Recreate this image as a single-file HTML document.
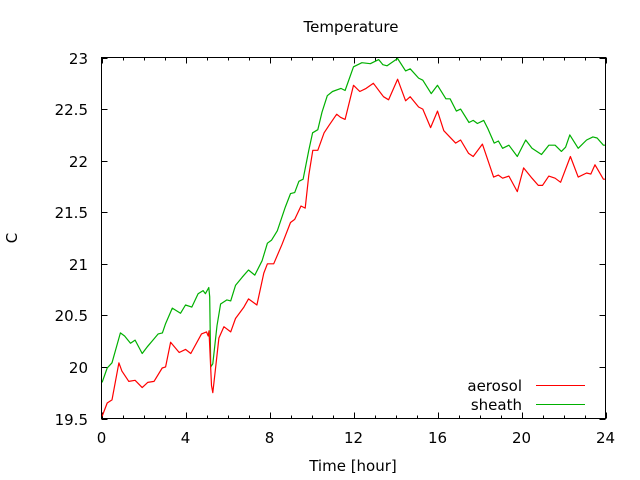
<!DOCTYPE html>
<html><head><meta charset="utf-8">
<style>
html,body{margin:0;padding:0;background:#fff;}
svg{display:block;font-family:"DejaVu Sans","Liberation Sans",sans-serif;font-size:15px;fill:#000;}
</style></head>
<body>
<svg id="chart" width="640" height="480" viewBox="0 0 640 480" xmlns="http://www.w3.org/2000/svg">
<rect x="0" y="0" width="640" height="480" fill="#fff"/>
<text x="351" y="32" text-anchor="middle">Temperature</text>
<text x="353" y="471" text-anchor="middle">Time [hour]</text>
<text x="0" y="0" text-anchor="middle" transform="translate(17,238) rotate(-90)">C</text>
<g id="ticks"></g>
<g id="series"></g>
<rect x="101.5" y="57.5" width="504" height="361" fill="none" stroke="#000" stroke-width="1"/>
<g>
<text x="522" y="391" text-anchor="end">aerosol</text>
<line x1="536" y1="385.5" x2="585" y2="385.5" stroke="#ff0000"/>
<text x="522" y="410" text-anchor="end">sheath</text>
<line x1="536" y1="404.5" x2="585" y2="404.5" stroke="#00b000"/>
</g>
</svg>
<script>
const xTickLabels = [0, 4, 8, 12, 16, 20, 24];
const yTickLabels = [19.5, 20, 20.5, 21, 21.5, 22, 22.5, 23];
const aerosolHours = [0.03,0.27,0.5,0.83,0.97,1.3,1.6,1.94,2.2,2.5,2.89,3.05,3.29,3.7,4.0,4.25,4.76,5.0,5.08,5.12,5.24,5.3,5.4,5.59,5.83,6.15,6.38,6.78,7.0,7.4,7.73,7.9,8.2,8.6,9.0,9.2,9.5,9.7,9.87,10.06,10.3,10.6,10.83,11.2,11.38,11.6,12.0,12.3,12.6,12.95,13.43,13.67,14.1,14.48,14.7,15.1,15.3,15.67,16.0,16.3,16.86,17.1,17.48,17.7,18.14,18.67,18.9,19.1,19.4,19.8,20.1,20.5,20.8,21.0,21.3,21.6,21.86,22.33,22.7,23.1,23.3,23.5,23.9,24.0];
const aerosolValues = [19.52,19.65,19.68,20.04,19.96,19.86,19.87,19.8,19.85,19.86,19.99,20.0,20.24,20.14,20.17,20.13,20.32,20.34,20.3,20.35,19.82,19.75,19.93,20.28,20.39,20.34,20.47,20.58,20.66,20.6,20.91,21.0,21.0,21.19,21.4,21.43,21.56,21.54,21.86,22.1,22.1,22.27,22.34,22.45,22.42,22.4,22.73,22.67,22.7,22.75,22.62,22.59,22.79,22.58,22.62,22.52,22.5,22.32,22.48,22.29,22.17,22.2,22.07,22.04,22.16,21.84,21.86,21.83,21.85,21.7,21.93,21.83,21.76,21.76,21.85,21.83,21.79,22.04,21.84,21.88,21.87,21.96,21.82,21.82];
const sheathHours = [0.03,0.27,0.5,0.9,1.1,1.38,1.6,1.94,2.2,2.41,2.7,2.9,3.05,3.37,3.76,4.0,4.3,4.6,4.84,4.95,5.11,5.15,5.2,5.3,5.5,5.67,5.97,6.15,6.38,6.7,7.0,7.3,7.65,7.9,8.1,8.37,8.75,9.0,9.2,9.4,9.6,9.87,10.05,10.3,10.5,10.75,11.0,11.4,11.6,12.0,12.4,12.8,13.2,13.4,13.6,14.1,14.48,14.7,15.1,15.3,15.7,16.0,16.4,16.6,16.9,17.1,17.5,17.7,17.9,18.2,18.4,18.7,18.9,19.1,19.4,19.8,20.2,20.5,20.95,21.3,21.6,21.9,22.1,22.3,22.7,23.1,23.4,23.6,23.9,24.0];
const sheathValues = [19.85,19.99,20.04,20.33,20.3,20.23,20.26,20.13,20.2,20.25,20.32,20.33,20.42,20.57,20.52,20.6,20.58,20.71,20.74,20.71,20.77,20.68,20.0,20.03,20.4,20.61,20.65,20.64,20.79,20.87,20.94,20.89,21.03,21.2,21.23,21.32,21.55,21.68,21.69,21.8,21.82,22.1,22.27,22.3,22.47,22.63,22.67,22.7,22.68,22.91,22.95,22.94,22.98,22.93,22.92,22.99,22.87,22.89,22.8,22.78,22.65,22.73,22.6,22.6,22.48,22.5,22.37,22.39,22.36,22.39,22.31,22.17,22.19,22.12,22.15,22.04,22.2,22.12,22.06,22.15,22.15,22.09,22.13,22.25,22.12,22.2,22.23,22.22,22.15,22.15];

const X0 = 101.5, X1 = 605.5, Y0 = 418.5, Y1 = 57.5;
const xMin = 0, xMax = 24, yMin = 19.5, yMax = 23;
function sx(v){ return X0 + (v - xMin) / (xMax - xMin) * (X1 - X0); }
function sy(v){ return Y0 - (v - yMin) / (yMax - yMin) * (Y0 - Y1); }
const NS = "http://www.w3.org/2000/svg";
const ticks = document.getElementById('ticks');
const series = document.getElementById('series');
function mk(tag, attrs, parent){
  const e = document.createElementNS(NS, tag);
  for (const k in attrs) e.setAttribute(k, attrs[k]);
  parent.appendChild(e);
  return e;
}
// minor x ticks every hour
for (let h = xMin; h <= xMax; h++) {
  const major = h % 4 === 0;
  const len = major ? 6 : 3;
  const x = Math.round(sx(h)) + 0.5;
  const t1 = mk('line', {x1:x, y1:Y0, x2:x, y2:Y0 - len, stroke:'#000'}, ticks);
  
  
  const t2 = mk('line', {x1:x, y1:Y1, x2:x, y2:Y1 + len, stroke:'#000'}, ticks);
  
  
}
xTickLabels.forEach(v => {
  const t = mk('text', {x: sx(v), y: 443, 'text-anchor':'middle'}, ticks);
  t.textContent = v;
  
  
});
yTickLabels.forEach(v => {
  const y = Math.round(sy(v)) + 0.5;
  const a = mk('line', {x1:X0, y1:y, x2:X0 + 6, y2:y, stroke:'#000'}, ticks);
  
  
  const b = mk('line', {x1:X1, y1:y, x2:X1 - 6, y2:y, stroke:'#000'}, ticks);
  
  
  const t = mk('text', {x: 88, y: y + 5.5, 'text-anchor':'end'}, ticks);
  t.textContent = v;
  
  
});
function drawLine(hours, vals, color, name){
  const pts = hours.map((h, i) => sx(h).toFixed(1) + ',' + sy(vals[i]).toFixed(1)).join(' ');
  const p = mk('polyline', {points: pts, fill:'none', stroke: color, 'stroke-width': 1.2, 'stroke-linejoin':'round'}, series);
  
  
}
drawLine(sheathHours, sheathValues, '#00b000', 'sheath-line');
drawLine(aerosolHours, aerosolValues, '#ff0000', 'aerosol-line');
</script>
</body></html>
